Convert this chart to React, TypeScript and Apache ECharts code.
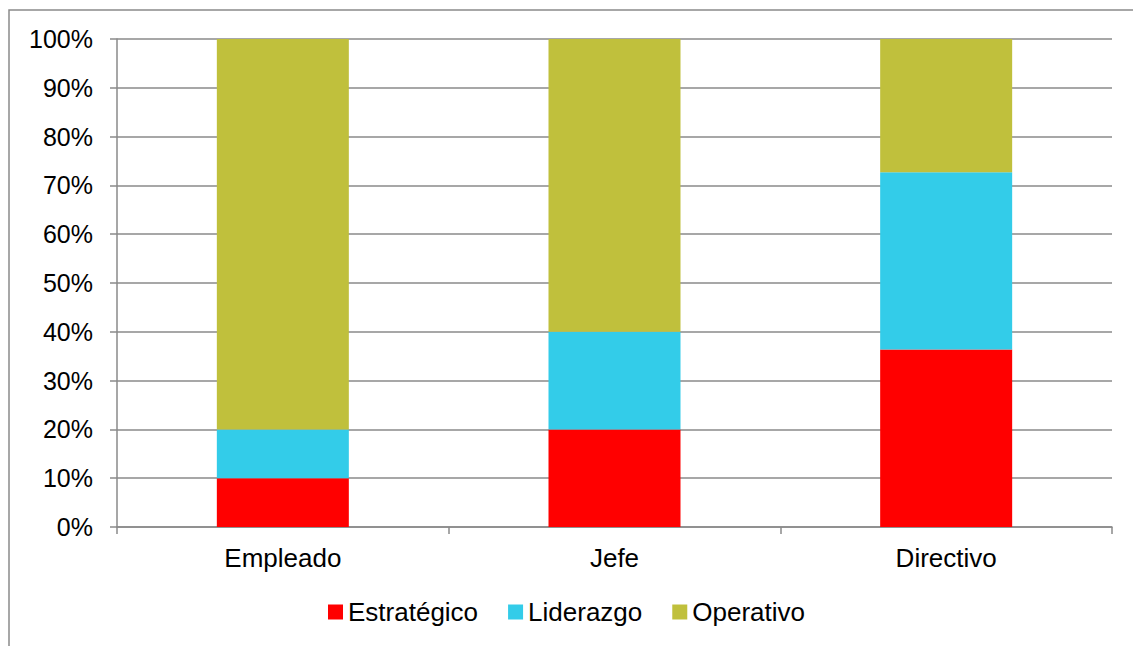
import React, { useEffect, useRef } from "react";
import * as echarts from "echarts";

const categories = ["Empleado", "Jefe", "Directivo"];
const estrategico = [10, 20, 36.36];
const liderazgo = [10, 20, 36.36];
const operativo = [80, 60, 27.28];
const seriesNames = ["Estratégico", "Liderazgo", "Operativo"];
const colors = ["#FF0000", "#33CCE9", "#C0C03C"];

export default function App() {
  const ref = useRef<HTMLDivElement>(null);
  useEffect(() => {
    if (!ref.current) return;
    const chart = echarts.init(ref.current, null, { renderer: "svg" });
    const font = "'Liberation Sans', Arial, sans-serif";
    const mk = (name: string, data: number[], color: string) => ({
      name,
      type: "bar",
      stack: "total",
      data,
      barWidth: 132,
      itemStyle: { color },
    });
    chart.setOption({
      animation: false,
      backgroundColor: "#ffffff",
      textStyle: { fontFamily: font },
      graphic: [
        {
          type: "rect",
          shape: { x: 9, y: 10, width: 1140, height: 660 },
          style: { fill: "none", stroke: "#8a8a8a", lineWidth: 1.5 },
          silent: true,
        },
      ],
      grid: { left: 117, top: 39, right: 21, bottom: 119, containLabel: false },
      legend: {
        data: seriesNames,
        bottom: 16,
        left: "center",
        itemWidth: 15,
        itemHeight: 15,
        itemGap: 30,
        icon: "rect",
        textStyle: { fontSize: 26, color: "#000", fontFamily: font },
      },
      xAxis: {
        type: "category",
        data: categories,
        axisLine: { show: true, lineStyle: { color: "#8a8a8a", width: 1.5 } },
        axisTick: { show: true, length: 7, alignWithLabel: false, lineStyle: { color: "#8a8a8a", width: 1.5 } },
        axisLabel: { fontSize: 26, color: "#000", margin: 18, fontFamily: font },
      },
      yAxis: {
        type: "value",
        min: 0,
        max: 100,
        interval: 10,
        axisLine: { show: true, lineStyle: { color: "#8a8a8a", width: 1.5 } },
        axisTick: { show: true, length: 7, lineStyle: { color: "#8a8a8a", width: 1.5 } },
        splitLine: { show: true, lineStyle: { color: "#8a8a8a", width: 1.5 } },
        axisLabel: { fontSize: 25, color: "#000", margin: 24, formatter: "{value}%", fontFamily: font },
      },
      series: [
        mk(seriesNames[0], estrategico, colors[0]),
        mk(seriesNames[1], liderazgo, colors[1]),
        mk(seriesNames[2], operativo, colors[2]),
      ],
    });
    return () => chart.dispose();
  }, []);
  return <div ref={ref} style={{ position: "absolute", left: 0, top: 0, width: 1133, height: 646 }} />;
}
